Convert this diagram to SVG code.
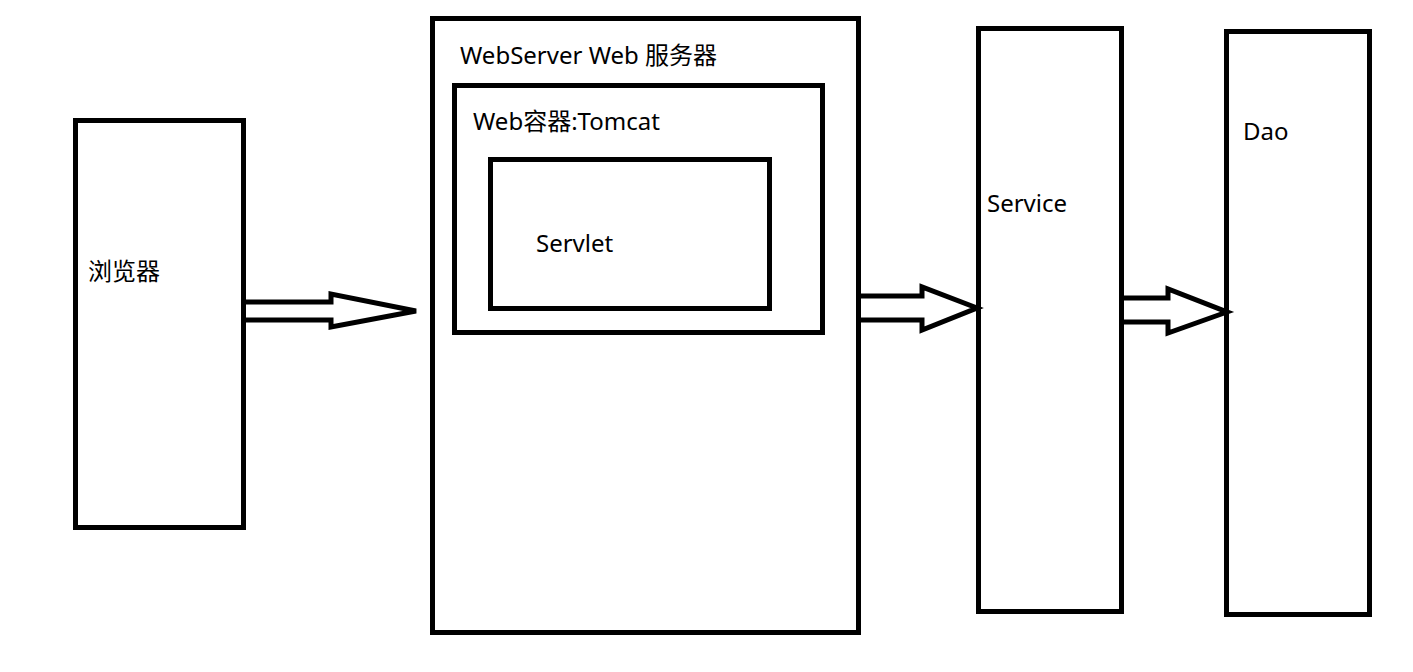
<svg xmlns="http://www.w3.org/2000/svg" width="1413" height="672" viewBox="0 0 1413 672">
<style>
.box{fill:none;stroke:#000;stroke-width:5}
.arr{fill:#fff;stroke:#000;stroke-width:5;stroke-linejoin:miter}
text{font-family:"Noto Sans","Noto Sans CJK SC",sans-serif;font-size:24px;fill:#000}
</style>
<rect width="1413" height="672" fill="#fff"/>
<g id="browser"><rect class="box" x="75.5" y="120.5" width="168" height="407"/><text x="88" y="280">浏览器</text></g>
<g id="webserver"><rect class="box" x="432.5" y="18.5" width="426" height="614"/><text x="460" y="64">WebServer Web 服务器</text></g>
<g id="tomcat"><rect class="box" x="454.5" y="85.5" width="368" height="247"/><text x="473" y="130">Web容器:Tomcat</text></g>
<g id="servlet"><rect class="box" x="490.5" y="159.5" width="279" height="149"/><text x="536" y="252">Servlet</text></g>
<g id="service"><rect class="box" x="978.5" y="28.5" width="143" height="583"/><text x="987" y="212">Service</text></g>
<g id="dao"><rect class="box" x="1226.5" y="31.5" width="143" height="583"/><text x="1243" y="140">Dao</text></g>
<g id="connectors">
<path class="arr" d="M246,302 H331 V294 L416,311 L331,327 V320 H246"/>
<path class="arr" d="M861,296 H922 V287 L977,308 L922,330 V320 H861"/>
<path class="arr" d="M1124,298 H1168 V289 L1227,312 L1168,333 V322 H1124"/>
</g>
</svg>
